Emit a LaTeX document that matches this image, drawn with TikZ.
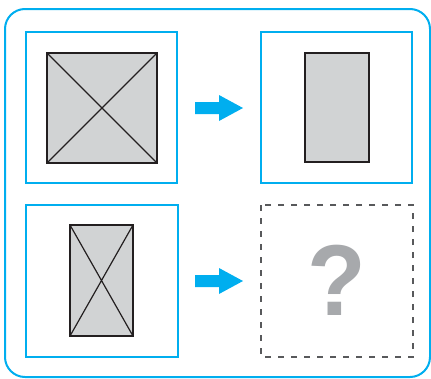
\documentclass[tikz,border=0pt]{standalone}
\usepackage{fontspec}
\newfontfamily\qfont{Liberation Sans}
\definecolor{cy}{RGB}{0,174,239}
\definecolor{shapefill}{RGB}{209,211,212}
\definecolor{shapeline}{RGB}{35,31,32}
\definecolor{dashgray}{RGB}{88,89,91}
\definecolor{qgray}{RGB}{167,169,172}
\begin{document}
\begin{tikzpicture}[x=1pt,y=-1pt,
  panel/.style={draw=cy,line width=2pt},
  figshape/.style={draw=shapeline,fill=shapefill,line width=1.5pt},
  xline/.style={draw=shapeline,line width=1.2pt},
  blockarrow/.style={fill=cy},
  emptypanel/.style={draw=dashgray,line width=2pt,dash pattern=on 6pt off 7pt}]
\useasboundingbox (0,0) rectangle (431,378);
% outer frame
\draw[cy,line width=2pt,rounded corners=20pt] (5,9) rectangle (430,377);
% panels
\draw[panel] (26,32) rectangle (177,183);
\draw[panel] (261,32) rectangle (412,183);
\draw[panel] (26,205) rectangle (178,357);
\draw[emptypanel] (261,205) rectangle (413,357);
% top-left square with cross
\draw[figshape] (47,53) rectangle (157,163);
\draw[xline] (47,53) -- (157,163) (157,53) -- (47,163);
% top-right rectangle
\draw[figshape] (305,53) rectangle (369,162);
% bottom-left rectangle with cross
\draw[figshape] (70,225) rectangle (133,336);
\draw[xline] (70,225) -- (133,336) (133,225) -- (70,336);
% arrows
\fill[blockarrow] (195,102) -- (219,102) -- (219,95) -- (243,108) -- (219,121) -- (219,114) -- (195,114) -- cycle;
\fill[blockarrow] (195,275) -- (219,275) -- (219,268) -- (243,281) -- (219,294) -- (219,287) -- (195,287) -- cycle;
% question mark
\node[text=qgray,font=\qfont\bfseries\fontsize{96}{96}\selectfont,inner sep=0pt,yscale=1.05] (q) at (337,280) {?};
\end{tikzpicture}
\end{document}
